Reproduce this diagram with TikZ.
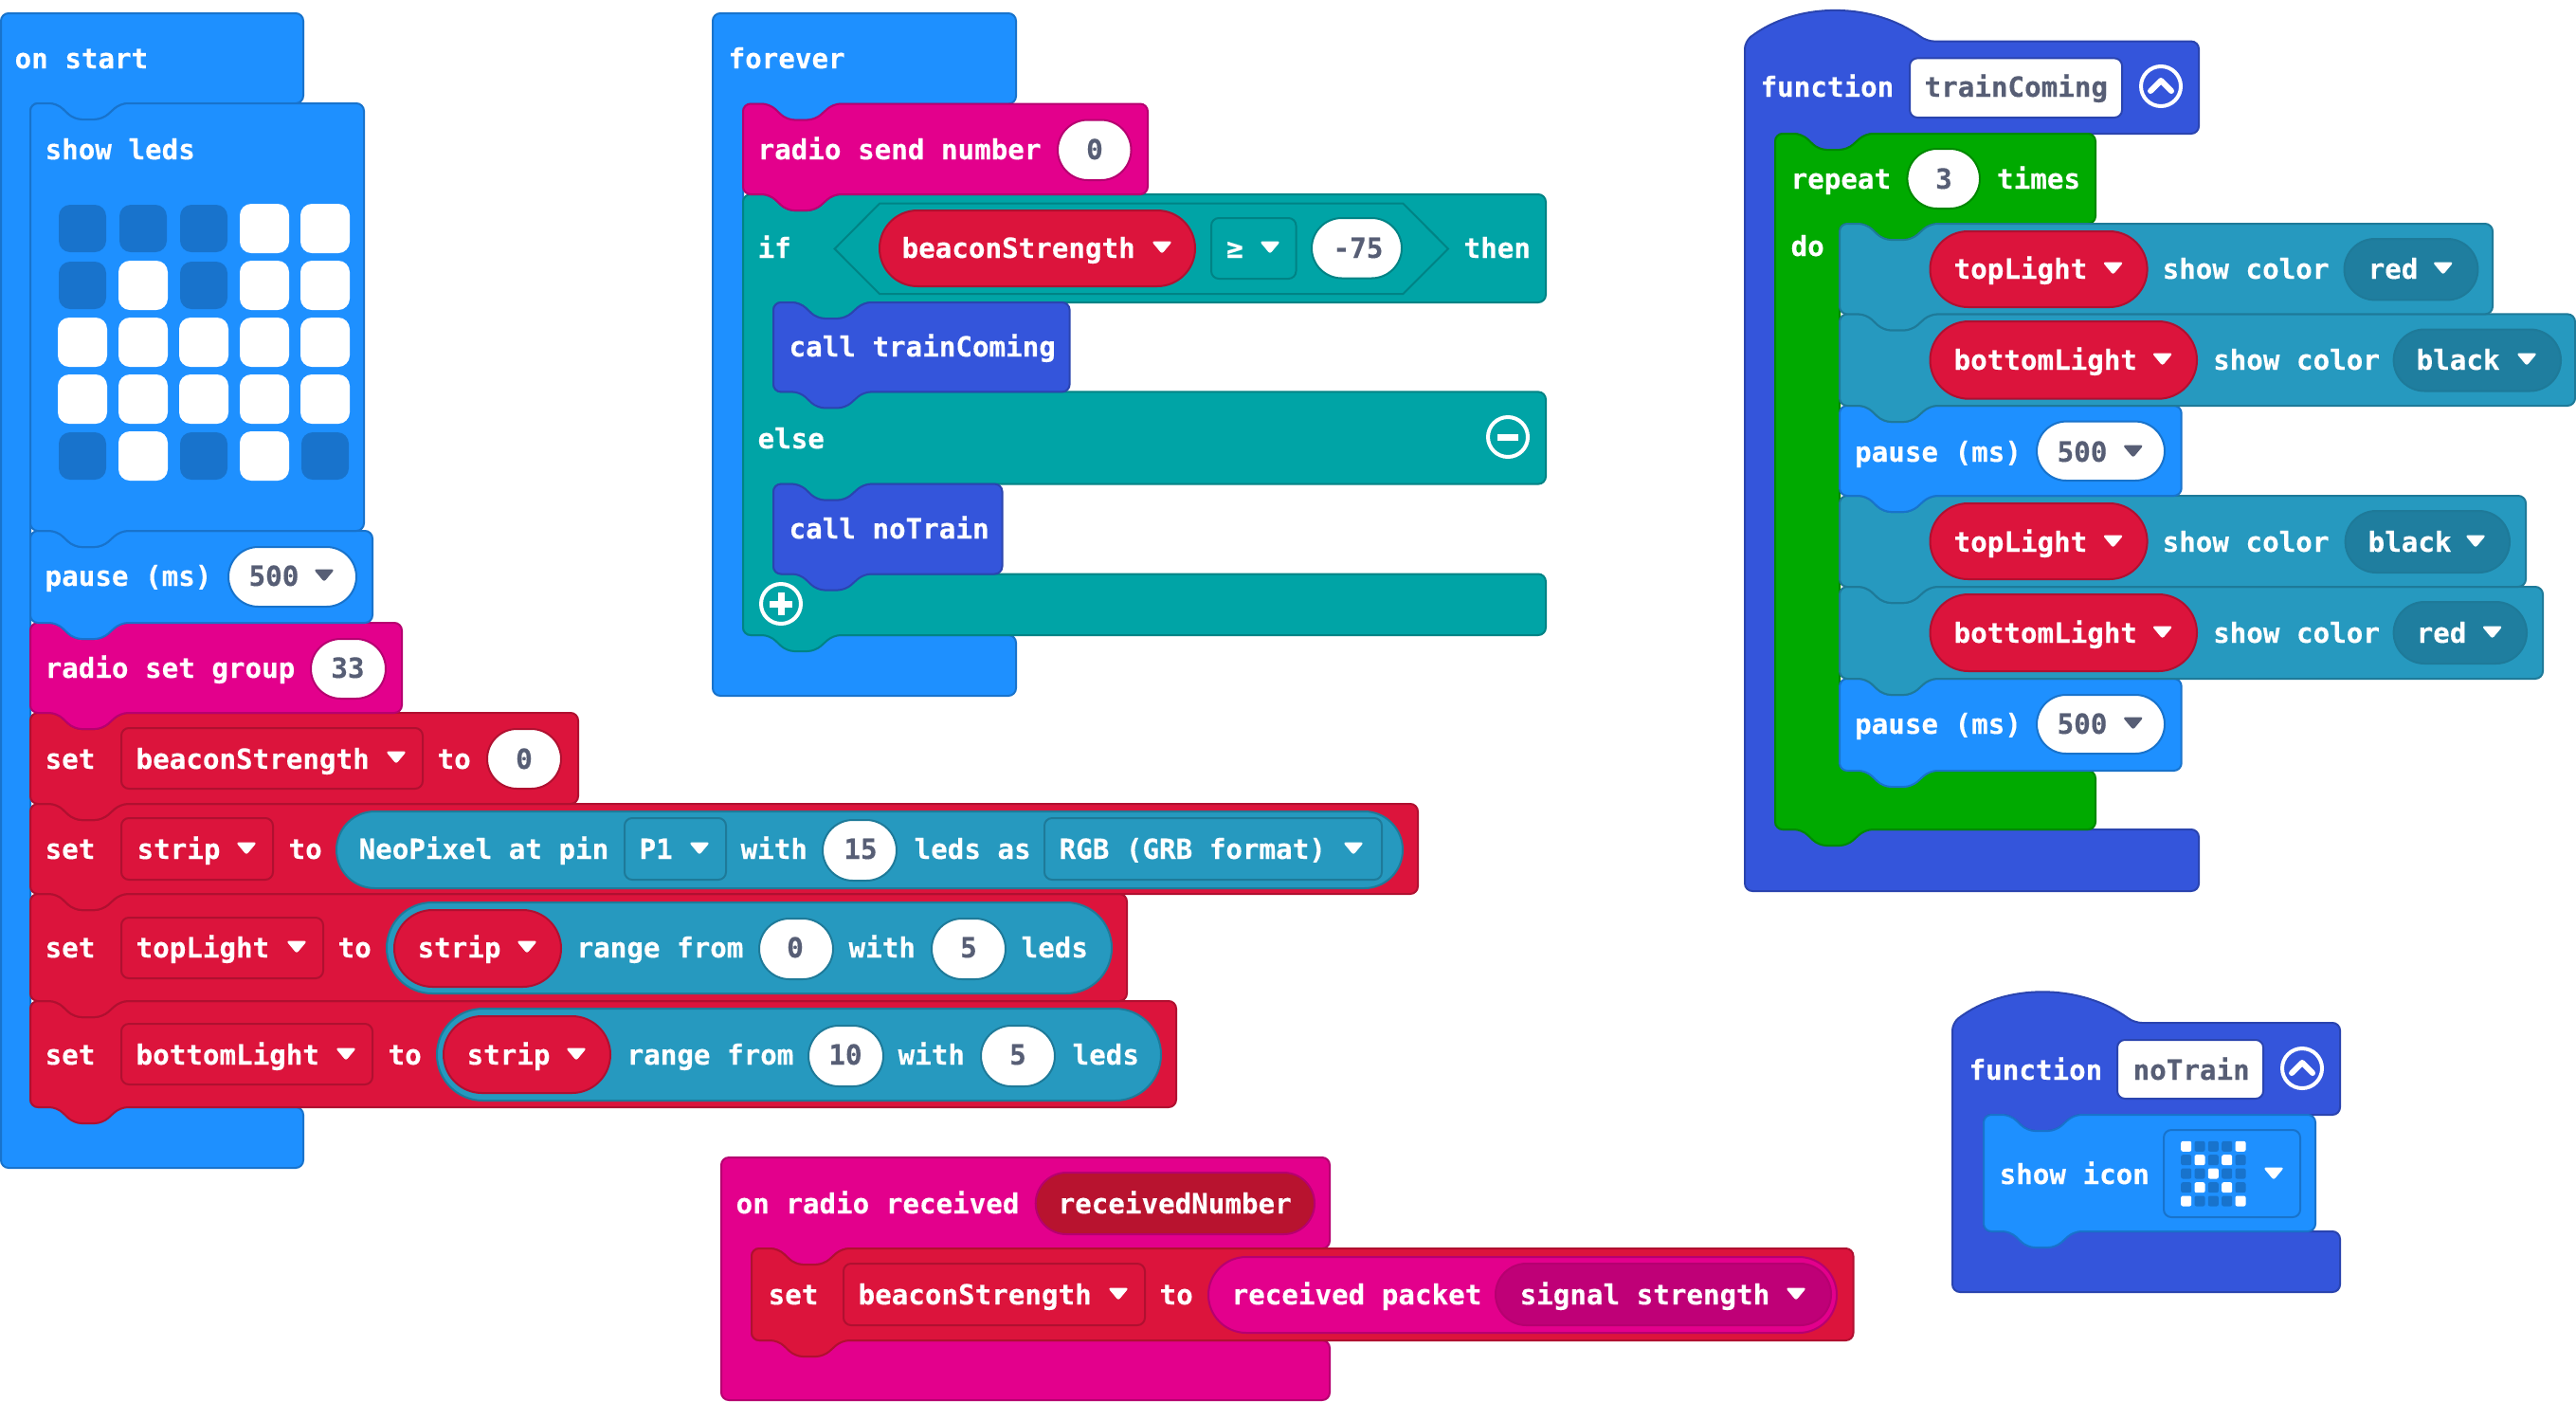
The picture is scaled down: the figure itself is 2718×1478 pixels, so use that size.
\documentclass[tikz,border=0pt]{standalone}
\usepackage{fontspec}
\newfontfamily\blockfont{DejaVu Sans Mono}[BoldFeatures={FakeBold=0.25}]
\definecolor{cblue}{HTML}{1E90FF}\definecolor{sblue}{HTML}{1873CC}
\definecolor{cmag}{HTML}{E3008C}\definecolor{smag}{HTML}{B60070}
\definecolor{cred}{HTML}{DC143C}\definecolor{sred}{HTML}{B01030}
\definecolor{cteal}{HTML}{00A4A6}\definecolor{steal}{HTML}{008385}
\definecolor{cfun}{HTML}{3455DB}\definecolor{sfun}{HTML}{2A44AF}
\definecolor{cgrn}{HTML}{00AA00}\definecolor{sgrn}{HTML}{008800}
\definecolor{cneo}{HTML}{2699BF}\definecolor{sneo}{HTML}{1E7A99}
\definecolor{cdneo}{HTML}{1F7E9F}
\definecolor{cdmag}{HTML}{BF0077}
\definecolor{cdred}{HTML}{B8132F}
\definecolor{vgrey}{HTML}{575E75}
\newcount\nodeid
\tikzset{
  blue block/.style={fill=cblue,draw=sblue},
  mag block/.style={fill=cmag,draw=smag},
  red block/.style={fill=cred,draw=sred},
  teal block/.style={fill=cteal,draw=steal},
  fun block/.style={fill=cfun,draw=sfun},
  grn block/.style={fill=cgrn,draw=sgrn},
  neo block/.style={fill=cneo,draw=sneo},
  dneo block/.style={fill=cdneo,draw=sneo},
  dmag block/.style={fill=cdmag,draw=smag},
  dred block/.style={fill=cdred,draw=smag},
  label/.style={inner sep=0pt,font=\blockfont\bfseries\fontsize{14.6pt}{17pt}\selectfont},
}
\newcommand\tabL[2]{-- ({#1+95},#2) -- ({#1+76},{#2+17}) -- ({#1+46},{#2+17}) -- ({#1+28},#2) -- (#1,#2)}
\newcommand\notchT[2]{(#1,#2) -- ({#1+28},#2) -- ({#1+46},{#2+17}) -- ({#1+76},{#2+17}) -- ({#1+95},#2)}
\newcommand\blk[5]{\draw[#5,line width=1pt,rounded corners=4pt] \notchT{#1}{#2} -- (#3,#2) -- (#3,#4) \tabL{#1}{#4} -- cycle;}
\newcommand\cont[8]{\draw[#1,line width=1pt,rounded corners=4pt] (#2,#3) -- (#6,#3) -- (#6,#5) \tabL{#4}{#5} -- (#4,#7) -- (#6,#7) -- (#6,#8) -- (#2,#8) -- cycle;}
\newcommand\hatcont[8]{\draw[#1,line width=1pt,rounded corners=4pt] (#2,#3) .. controls ({#2+55},{#3-42}) and ({#2+135},{#3-42}) .. ({#2+192},#3) -- (#6,#3) -- (#6,#5) \tabL{#4}{#5} -- (#4,#7) -- (#6,#7) -- (#6,#8) -- (#2,#8) -- cycle;}
\newcommand\pill[5]{\pgfmathsetmacro\rr{(#4-#2)/4-0.01}\draw[#5,line width=1pt,rounded corners=\rr pt] (#1,#2) rectangle (#3,#4);}
\newcommand\field[5]{\draw[#5,line width=1pt,rounded corners=4pt] (#1,#2) rectangle (#3,#4);}
\newcommand\wtext[3]{\global\advance\nodeid by 1 \node[label,name=n\the\nodeid,anchor=base west,text=white] at ({#1-0.8},{#2+10}) {#3};}
\newcommand\gtext[3]{\global\advance\nodeid by 1 \node[label,name=n\the\nodeid,anchor=base west,text=vgrey] at ({#1-0.8},{#2+10}) {#3};}
\newcommand\wctr[3]{\global\advance\nodeid by 1 \node[label,name=n\the\nodeid,anchor=base,text=white] at (#1,{#2+10}) {#3};}
\newcommand\gctr[3]{\global\advance\nodeid by 1 \node[label,name=n\the\nodeid,anchor=base,text=vgrey] at (#1,{#2+10}) {#3};}
\newcommand\arrow[3][white]{\fill[#1,draw=#1,line width=0.5pt,rounded corners=1pt,line join=round] ({#2-10},{#3-5}) -- ({#2+10},{#3-5}) -- (#2,{#3+7}) -- cycle;}
\newcommand\ledon[2]{\fill[white,rounded corners=6pt] ({#1-26},{#2-26}) rectangle ({#1+26},{#2+26});}
\newcommand\ledoff[2]{\fill[sblue,rounded corners=6pt] ({#1-25},{#2-25}) rectangle ({#1+25},{#2+25});}
\newcommand\pxon[2]{\fill[white,rounded corners=1pt] ({#1-5.5},{#2-5.5}) rectangle ({#1+5.5},{#2+5.5});}
\newcommand\pxoff[2]{\fill[sblue,rounded corners=1pt] ({#1-5.5},{#2-5.5}) rectangle ({#1+5.5},{#2+5.5});}
\newcommand\ring[2]{\draw[white,line width=2pt] (#1,#2) circle[radius=21];}
\newcommand\chevron[2]{\ring{#1}{#2}\draw[white,line width=3pt,line cap=round,line join=round] ({#1-11},{#2+5}) -- (#1,{#2-6}) -- ({#1+11},{#2+5});}
\begin{document}
\begin{tikzpicture}[x=0.5pt,y=-0.5pt]
\path[use as bounding box,fill=white] (0,0) rectangle (2718,1478);
%% ---------- on start ----------
\cont{blue block}{1}{14}{32}{109}{320}{1168}{1232}
\wtext{16}{62}{on start}
\blk{32}{1056}{1241}{1168}{red block}
\blk{32}{943}{1189}{1056}{red block}
\blk{32}{848}{1496}{943}{red block}
\blk{32}{752}{610}{848}{red block}
\blk{32}{657}{424}{752}{mag block}
\blk{32}{560}{393}{657}{blue block}
\blk{32}{109}{384}{560}{blue block}
\wtext{48}{158}{show leds}
\ledoff{87}{241}\ledoff{151}{241}\ledoff{215}{241}\ledon{279}{241}\ledon{343}{241}
\ledoff{87}{301}\ledon{151}{301}\ledoff{215}{301}\ledon{279}{301}\ledon{343}{301}
\ledon{87}{361}\ledon{151}{361}\ledon{215}{361}\ledon{279}{361}\ledon{343}{361}
\ledon{87}{421}\ledon{151}{421}\ledon{215}{421}\ledon{279}{421}\ledon{343}{421}
\ledoff{87}{481}\ledon{151}{481}\ledoff{215}{481}\ledon{279}{481}\ledoff{343}{481}
\wtext{48}{608}{pause (ms)}
\pill{241}{577}{376}{640}{fill=white,draw=sblue}
\gtext{263}{608}{500}
\arrow[vgrey]{342}{606}
\wtext{48}{705}{radio set group}
\pill{328}{674}{407}{737}{fill=white,draw=smag}
\gctr{367}{705}{33}
% set beaconStrength
\wtext{48}{801}{set}
\field{128}{768}{446}{832}{red block}
\wtext{144}{801}{beaconStrength}
\arrow{418}{798}
\wtext{462}{801}{to}
\pill{514}{769}{592}{832}{fill=white,draw=sred}
\gctr{553}{801}{0}
% set strip
\wtext{48}{896}{set}
\field{128}{863}{288}{928}{red block}
\wtext{145}{896}{strip}
\arrow{260}{894}
\wtext{305}{896}{to}
\pill{355}{856}{1480}{937}{neo block}
\wtext{379}{896}{NeoPixel at pin}
\field{659}{863}{766}{928}{neo block}
\wtext{675}{896}{P1}
\arrow{738}{894}
\wtext{782}{896}{with}
\pill{868}{865}{946}{929}{fill=white,draw=sneo}
\gctr{908}{896}{15}
\wtext{965}{896}{leds as}
\field{1102}{863}{1458}{928}{neo block}
\wtext{1118}{896}{RGB (GRB format)}
\arrow{1428}{894}
% set topLight
\wtext{48}{1000}{set}
\field{128}{968}{341}{1032}{red block}
\wtext{144}{1000}{topLight}
\arrow{313}{998}
\wtext{357}{1000}{to}
\pill{408}{952}{1173}{1048}{neo block}
\pill{416}{960}{592}{1041}{red block}
\wtext{441}{1000}{strip}
\arrow{556}{998}
\wtext{609}{1000}{range from}
\pill{801}{969}{879}{1033}{fill=white,draw=sneo}
\gctr{839}{1000}{0}
\wtext{896}{1000}{with}
\pill{983}{969}{1061}{1033}{fill=white,draw=sneo}
\gctr{1022}{1000}{5}
\wtext{1078}{1000}{leds}
% set bottomLight
\wtext{48}{1113}{set}
\field{128}{1080}{393}{1144}{red block}
\wtext{144}{1113}{bottomLight}
\arrow{365}{1111}
\wtext{410}{1113}{to}
\pill{461}{1064}{1225}{1161}{neo block}
\pill{468}{1072}{644}{1153}{red block}
\wtext{493}{1113}{strip}
\arrow{608}{1111}
\wtext{662}{1113}{range from}
\pill{853}{1082}{932}{1146}{fill=white,draw=sneo}
\gctr{892}{1113}{10}
\wtext{948}{1113}{with}
\pill{1035}{1082}{1113}{1146}{fill=white,draw=sneo}
\gctr{1074}{1113}{5}
\wtext{1132}{1113}{leds}
%% ---------- forever ----------
\cont{blue block}{752}{14}{784}{109.5}{1072}{670}{734}
\wtext{769}{62}{forever}
\draw[teal block,line width=1pt,rounded corners=4pt] \notchT{784}{205} -- (1631,205) -- (1631,319) \tabL{816}{319} -- (816,413.4) -- (1631,413.4) -- (1631,510.6) \tabL{816}{510.6} -- (816,605.5) -- (1631,605.5) -- (1631,670) \tabL{784}{670} -- cycle;
\blk{816}{510.6}{1057.5}{605.5}{fun block}
\blk{816}{319}{1128.6}{413.4}{fun block}
\blk{784}{109.5}{1211}{205}{mag block}
\wtext{800}{158}{radio send number}
\pill{1116}{126.5}{1193.5}{190}{fill=white,draw=smag}
\gctr{1155}{158}{0}
\wtext{800}{262}{if}
\draw[teal block,line width=1pt] (880.6,262.5) -- (928,214.7) -- (1480.5,214.7) -- (1528,262.5) -- (1480.5,310) -- (928,310) -- cycle;
\pill{928}{222}{1261}{302}{red block}
\wtext{952}{262}{beaconStrength}
\arrow{1226}{260}
\field{1278}{230}{1367.5}{294}{teal block}
\wctr{1303}{262}{≥}
\arrow{1340}{260}
\pill{1384}{230}{1479}{293.5}{fill=white,draw=steal}
\gctr{1433}{262}{-75}
\wtext{1545}{262}{then}
\wtext{833}{366}{call trainComing}
\wtext{800}{463}{else}
\ring{1591}{461}
\draw[white,line width=3.5pt] (1580,461) -- (1602,461);
\wtext{833}{558}{call noTrain}
\ring{824}{637}
\draw[white,line width=3.5pt] (812,637) -- (836,637) (824,625) -- (824,649);
%% ---------- function trainComing ----------
\hatcont{fun block}{1841}{43.6}{1873}{141}{2320}{875}{940}
\wtext{1858}{92}{function}
\field{2015}{61.4}{2239}{124}{fill=white,draw=sfun}
\gtext{2031}{92}{trainComing}
\chevron{2280}{91}
\draw[grn block,line width=1pt,rounded corners=4pt] \notchT{1873}{141} -- (2211,141) -- (2211,236) \tabL{1941}{236} -- (1941,813) -- (2211,813) -- (2211,875) \tabL{1873}{875} -- cycle;
\wtext{1890}{189}{repeat}
\pill{2012.4}{157}{2089}{220}{fill=white,draw=sgrn}
\gctr{2051}{189}{3}
\wtext{2107.5}{189}{times}
\wtext{1890}{260}{do}
\blk{1941}{716}{2301.7}{813}{blue block}
\blk{1941}{619}{2683}{716}{neo block}
\blk{1941}{523}{2665}{619}{neo block}
\blk{1941}{428}{2301.7}{523}{blue block}
\blk{1941}{331.4}{2717}{428}{neo block}
\blk{1941}{236}{2630}{331.4}{neo block}
% row 1
\pill{2036.5}{244}{2265.6}{324}{red block}
\wtext{2062}{284}{topLight}
\arrow{2229.5}{282}
\wtext{2282}{284}{show color}
\pill{2473.5}{252}{2614.4}{316.4}{dneo block}
\wtext{2499}{284}{red}
\arrow{2577.7}{282}
% row 2
\pill{2036.5}{339}{2318}{420.7}{red block}
\wtext{2062}{380}{bottomLight}
\arrow{2281.6}{378}
\wtext{2335.5}{380}{show color}
\pill{2525.6}{347.5}{2702}{412.5}{dneo block}
\wtext{2550}{380}{black}
\arrow{2666}{378}
% pause 1
\wtext{1957.5}{477}{pause (ms)}
\pill{2149}{444.6}{2284}{507}{fill=white,draw=sblue}
\gtext{2171}{477}{500}
\arrow[vgrey]{2250.7}{475}
% row 3
\pill{2036.5}{531}{2265.6}{611}{red block}
\wtext{2062}{572}{topLight}
\arrow{2229.5}{570}
\wtext{2282}{572}{show color}
\pill{2474.6}{539}{2648}{604}{dneo block}
\wtext{2499}{572}{black}
\arrow{2612}{570}
% row 4
\pill{2036.5}{627}{2318}{708}{red block}
\wtext{2062}{668}{bottomLight}
\arrow{2281.6}{666}
\wtext{2335.5}{668}{show color}
\pill{2525.6}{635}{2666}{700}{dneo block}
\wtext{2550}{668}{red}
\arrow{2629.6}{666}
% pause 2
\wtext{1957.5}{764}{pause (ms)}
\pill{2149}{733}{2284}{795}{fill=white,draw=sblue}
\gtext{2171}{764}{500}
\arrow[vgrey]{2250.7}{762}
%% ---------- function noTrain ----------
\hatcont{fun block}{2060}{1079}{2093}{1176}{2469}{1299}{1363}
\wtext{2078}{1129}{function}
\field{2234}{1097}{2388}{1159}{fill=white,draw=sfun}
\gtext{2251}{1129}{noTrain}
\chevron{2429}{1127}
\blk{2093}{1176}{2443}{1299}{blue block}
\wtext{2110}{1239}{show icon}
\field{2283}{1192}{2427}{1284}{blue block}
\pxon{2306.7}{1209.3}\pxoff{2321}{1209.3}\pxoff{2335.3}{1209.3}\pxoff{2349.7}{1209.3}\pxon{2364}{1209.3}
\pxoff{2306.7}{1223.7}\pxon{2321}{1223.7}\pxoff{2335.3}{1223.7}\pxon{2349.7}{1223.7}\pxoff{2364}{1223.7}
\pxoff{2306.7}{1238}\pxoff{2321}{1238}\pxon{2335.3}{1238}\pxoff{2349.7}{1238}\pxoff{2364}{1238}
\pxoff{2306.7}{1252.7}\pxon{2321}{1252.7}\pxoff{2335.3}{1252.7}\pxon{2349.7}{1252.7}\pxoff{2364}{1252.7}
\pxon{2306.7}{1267}\pxoff{2321}{1267}\pxoff{2335.3}{1267}\pxoff{2349.7}{1267}\pxon{2364}{1267}
\arrow{2399}{1237}
%% ---------- on radio received ----------
\cont{mag block}{761}{1221}{793}{1317}{1403}{1414}{1477}
\wtext{777}{1270}{on radio received}
\pill{1092.7}{1237}{1387}{1302}{dred block}
\wtext{1117}{1270}{receivedNumber}
\blk{793}{1317}{1955.5}{1414}{red block}
\wtext{811}{1366}{set}
\field{890}{1333}{1208}{1398}{red block}
\wtext{906}{1366}{beaconStrength}
\arrow{1180}{1364}
\wtext{1224}{1366}{to}
\pill{1275}{1326}{1938}{1406}{mag block}
\wtext{1300}{1366}{received packet}
\pill{1578}{1333}{1932}{1398}{dmag block}
\wtext{1604}{1366}{signal strength}
\arrow{1895}{1364}
\end{tikzpicture}
\end{document}
